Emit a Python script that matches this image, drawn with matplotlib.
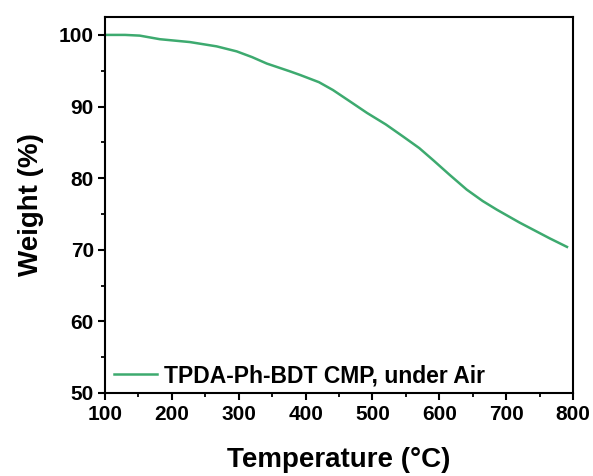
import matplotlib
matplotlib.use('Agg')
import matplotlib.pyplot as plt
from matplotlib.ticker import MultipleLocator

# values
temp = [100, 130, 152, 182, 227, 267, 297, 320, 342, 377, 392, 420, 441, 465,
        492, 520, 546, 570, 591, 615, 641, 665, 686, 720, 765, 791]
weight = [100.0, 100.0, 99.9, 99.4, 99.0, 98.4, 97.7, 96.9, 96.0, 94.9, 94.4,
          93.4, 92.3, 90.8, 89.1, 87.5, 85.8, 84.2, 82.5, 80.5, 78.4, 76.8,
          75.6, 73.8, 71.6, 70.4]

plt.rcParams['font.family'] = ['Liberation Sans', 'DejaVu Sans']
plt.rcParams['font.weight'] = 'bold'

fig = plt.figure(figsize=(5.93, 4.76), dpi=100)
ax = fig.add_axes([105/593, 1-393/476, 468/593, 376/476])

ax.plot(temp, weight, color='#3daa6f', lw=1.8, label='TPDA-Ph-BDT CMP, under Air')

ax.set_xlim(100, 800)
ax.set_ylim(50, 102.5)
ax.xaxis.set_major_locator(MultipleLocator(100))
ax.xaxis.set_minor_locator(MultipleLocator(50))
ax.yaxis.set_major_locator(MultipleLocator(10))
ax.yaxis.set_minor_locator(MultipleLocator(5))
ax.tick_params(which='major', direction='out', length=5, width=1.5, labelsize=15, pad=3)
ax.tick_params(axis='x', which='major', pad=4)
ax.tick_params(which='minor', direction='out', length=3, width=1.3)
for s in ax.spines.values():
    s.set_linewidth(1.5)

ax.set_xlabel('Temperature (\u00b0C)', fontsize=20, fontweight='bold', labelpad=16)
ax.set_ylabel('Weight (%)', fontsize=20, fontweight='bold', labelpad=11)

ax.legend(loc='lower left', bbox_to_anchor=(-0.0107, -0.0213), frameon=False,
          fontsize=16.5, handlelength=1.9, borderaxespad=0.2, handletextpad=0.3)

fig.savefig('out.png', dpi=100)
